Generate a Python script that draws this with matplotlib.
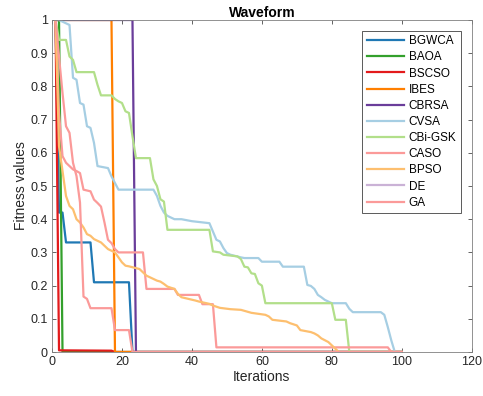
import matplotlib

matplotlib.use("Agg")
import matplotlib.pyplot as plt

plt.rcParams["font.family"] = ["Liberation Sans", "DejaVu Sans"]

# breakpoints (iteration, normalized fitness)
bgwca_it = [1, 2, 3, 4, 11, 12, 22, 23, 100]
bgwca_val = [1, 0.42, 0.42, 0.33, 0.33, 0.21, 0.21, 0, 0]

baoa_it = [1, 2, 3, 100]
baoa_val = [1, 1, 0, 0]

bscso_it = [1, 2, 17, 18, 100]
bscso_val = [1, 0.005, 0.004, 0, 0]

ibes_it = [1, 17, 18, 100]
ibes_val = [1, 1, 0, 0]

cbrsa_it = [1, 23, 24, 100]
cbrsa_val = [1, 1, 0, 0]

cvsa_it = [1, 2, 3, 4, 5, 6, 7, 8, 9, 10, 11, 12, 13, 16, 17, 18, 19, 29, 30,
           31, 32, 33, 34, 35, 37, 40, 45, 46, 47, 48, 49, 50, 51, 54, 55, 59,
           60, 65, 66, 72, 73, 74, 75, 76, 77, 78, 79, 80, 84, 85, 86, 94, 95,
           96, 97, 98, 100]
cvsa_val = [1, 1, 0.995, 0.99, 0.985, 0.826, 0.82, 0.75, 0.745, 0.68, 0.675,
            0.63, 0.56, 0.554, 0.529, 0.509, 0.489, 0.489, 0.47, 0.44, 0.42,
            0.41, 0.405, 0.40, 0.40, 0.394, 0.388, 0.363, 0.338, 0.333, 0.313,
            0.298, 0.293, 0.285, 0.283, 0.283, 0.272, 0.272, 0.257, 0.257,
            0.202, 0.199, 0.19, 0.172, 0.165, 0.157, 0.152, 0.147, 0.147, 0.13,
            0.12, 0.12, 0.112, 0.075, 0.035, 0, 0]

cbigsk_it = [1, 2, 4, 5, 6, 7, 12, 13, 14, 17, 18, 19, 20, 21, 22, 23, 24, 28,
             29, 30, 31, 32, 33, 45, 46, 48, 49, 53, 54, 55, 56, 57, 58, 59, 60,
             61, 80, 81, 84, 85, 100]
cbigsk_val = [1, 0.94, 0.94, 0.89, 0.88, 0.843, 0.843, 0.805, 0.773, 0.773,
              0.762, 0.755, 0.75, 0.725, 0.72, 0.65, 0.584, 0.584, 0.52, 0.5,
              0.46, 0.453, 0.368, 0.368, 0.303, 0.3, 0.293, 0.288, 0.28, 0.257,
              0.255, 0.237, 0.235, 0.207, 0.2, 0.147, 0.147, 0.097, 0.097, 0,
              0]

caso_it = [1, 2, 3, 4, 5, 6, 7, 8, 9, 11, 12, 13, 14, 15, 16, 17, 18, 19, 26,
           27, 35, 36, 42, 43, 46, 47, 96, 97, 100]
caso_val = [1, 0.72, 0.59, 0.57, 0.56, 0.55, 0.545, 0.539, 0.489, 0.484, 0.459,
            0.449, 0.438, 0.39, 0.338, 0.328, 0.31, 0.3, 0.3, 0.19, 0.19, 0.172,
            0.172, 0.144, 0.144, 0.014, 0.014, 0, 0]

bpso_it = [1, 2, 3, 4, 5, 6, 7, 8, 9, 10, 11, 12, 13, 14, 15, 16, 17, 18, 19,
           20, 21, 22, 25, 26, 27, 28, 30, 31, 32, 33, 35, 36, 37, 41, 42, 45,
           46, 48, 51, 54, 57, 61, 62, 63, 67, 68, 70, 71, 74, 75, 76, 77, 79,
           80, 81, 82, 100]
bpso_val = [1, 0.62, 0.545, 0.47, 0.44, 0.43, 0.4, 0.39, 0.375, 0.355, 0.35,
            0.34, 0.335, 0.33, 0.32, 0.31, 0.305, 0.3, 0.285, 0.27, 0.26, 0.258,
            0.25, 0.24, 0.23, 0.225, 0.215, 0.212, 0.205, 0.197, 0.19, 0.175,
            0.165, 0.155, 0.152, 0.145, 0.14, 0.133, 0.129, 0.127, 0.118, 0.112,
            0.107, 0.097, 0.092, 0.087, 0.08, 0.066, 0.06, 0.056, 0.05, 0.041,
            0.03, 0.02, 0.01, 0, 0]

# DE is flat in the source run, so its normalized curve has no points
de_it = []
de_val = []

ga_it = [1, 2, 3, 4, 5, 6, 7, 8, 9, 10, 11, 17, 18, 22, 23, 100]
ga_val = [1, 0.89, 0.78, 0.68, 0.66, 0.57, 0.53, 0.45, 0.167, 0.16, 0.132,
          0.132, 0.066, 0.066, 0, 0]

SERIES = [
    ("BGWCA", bgwca_it, bgwca_val, "#1f78b4"),
    ("BAOA", baoa_it, baoa_val, "#33a02c"),
    ("BSCSO", bscso_it, bscso_val, "#e31a1c"),
    ("IBES", ibes_it, ibes_val, "#ff7f00"),
    ("CBRSA", cbrsa_it, cbrsa_val, "#6a3d9a"),
    ("CVSA", cvsa_it, cvsa_val, "#a6cee3"),
    ("CBi-GSK", cbigsk_it, cbigsk_val, "#b2df8a"),
    ("CASO", caso_it, caso_val, "#fb9a99"),
    ("BPSO", bpso_it, bpso_val, "#fdbf6f"),
    ("DE", de_it, de_val, "#cab2d6"),
    ("GA", ga_it, ga_val, "#fb9a99"),
]

AX_COLOR = "#262626"

fig = plt.figure(figsize=(4.83, 3.96), dpi=100)
ax = fig.add_axes([0.1077, 0.1111, 0.869, 0.8384])

for name, it, val, color in SERIES:
    ax.plot(it, val, color=color, lw=1.6, label=name)

ax.set_xlim(0, 120)
ax.set_ylim(0, 1)
ax.set_xticks(range(0, 121, 20))
ax.set_yticks([i / 10 for i in range(11)])
ax.set_yticklabels(["0"] + [f"{i / 10:.1f}" for i in range(1, 10)] + ["1"])
ax.tick_params(direction="in", top=True, right=True, length=3, width=0.5,
               labelsize=9, colors=AX_COLOR, pad=3)
for s in ax.spines.values():
    s.set_color("#808080")
    s.set_linewidth(0.6)

ax.set_xlabel("Iterations", fontsize=10, color=AX_COLOR, labelpad=1)
ax.set_ylabel("Fitness values", fontsize=10, color=AX_COLOR, labelpad=2)
ax.set_title("Waveform", fontsize=10, fontweight="bold", pad=2)

leg = ax.legend(loc="upper right", bbox_to_anchor=(0.9745, 0.968),
                borderaxespad=0, fontsize=8.5, handlelength=3.2,
                labelspacing=0.35, handletextpad=0.35, borderpad=0.4,
                fancybox=False, framealpha=1, edgecolor="#404040")
leg.get_frame().set_linewidth(0.6)

fig.savefig("out.png", dpi=100)
